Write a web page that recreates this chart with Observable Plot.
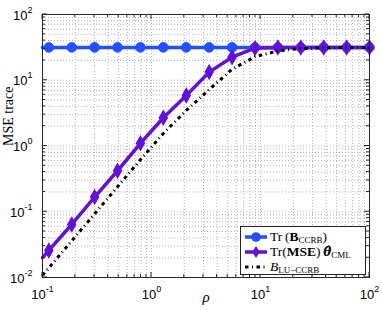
<!DOCTYPE html>
<html><head><meta charset="utf-8">
<script src="https://cdn.jsdelivr.net/npm/d3@7"></script>
<script src="https://cdn.jsdelivr.net/npm/@observablehq/plot@0.6"></script>
<style>
body{margin:0;background:#fff;}
#chart{position:relative;width:382px;height:310px;overflow:hidden;}
.legend{position:absolute;left:240px;top:226px;width:124px;height:47px;border:1px solid #222;background:#fff;
  font-family:"Liberation Serif","DejaVu Serif",serif;font-size:13.5px;color:#000;}
.row{position:absolute;left:3px;height:15px;display:flex;align-items:center;white-space:nowrap;}
.row svg{margin-right:2px;}
sub{font-size:9px;vertical-align:-2px;line-height:0;}
.th{font-family:"DejaVu Serif",serif;font-size:12px;font-weight:bold;font-style:italic;}
</style></head>
<body><div id="chart"></div>
<script>
// ---- data ----
const rho = [0.1143, 0.1854, 0.3007, 0.4881, 0.7919, 1.284, 2.084, 3.381, 5.484, 8.899, 14.43, 23.42, 37.99, 61.64, 100];
const trB   = [31.6, 31.6, 31.6, 31.6, 31.6, 31.6, 31.6, 31.6, 31.6, 31.6, 31.6, 31.6, 31.6, 31.6, 31.6];
const trMSE = [0.0258, 0.064, 0.167, 0.42, 1.10, 2.69, 5.86, 13.3, 22.4, 30.7, 31.5, 31.6, 31.6, 31.6, 31.6];
const bLU   = [0.014, 0.036, 0.093, 0.24, 0.62, 1.55, 3.47, 7.2, 14.7, 22.8, 27.9, 30.4, 31.2, 31.5, 31.6];
// values where the curves enter the left edge (rho = 0.1)
const rhoEdge = 0.1;
const edgeB = 31.6, edgeMSE = 0.020, edgeLU = 0.0108;
const xMajor = [0.1, 1, 10, 100];
const yMajor = [0.01, 0.1, 1, 10, 100];
const seriesNames = ["Tr (B_CCRB)", "Tr(MSE) θ_CML", "B_LU-CCRB"];
const xLabel = "ρ";
const yLabel = "MSE trace";

const colors = {B: "#2350ff", MSE: "#6410d6", LU: "#000000"};

const mk = (ys, edge) => [{x: rhoEdge, y: edge}, ...rho.map((x, i) => ({x, y: ys[i]}))];
const lineB = mk(trB, edgeB), lineMSE = mk(trMSE, edgeMSE), lineLU = mk(bLU, edgeLU);
const ptsB = rho.map((x, i) => ({x, y: trB[i]}));
const ptsMSE = rho.map((x, i) => ({x, y: trMSE[i]}));

const xTicks = d3.scaleLog().domain([0.1, 100]).ticks();
const yTicks = d3.scaleLog().domain([0.01, 100]).ticks();
const isMajor = v => Math.abs(Math.log10(v) - Math.round(Math.log10(v))) < 1e-9;
const fmt = d => "10^" + Math.round(Math.log10(d));

function inwardTicks(index, scales, values, dims) {
  const {x, y} = scales;
  const x0 = dims.marginLeft, x1 = dims.width - dims.marginRight;
  const y0 = dims.marginTop, y1 = dims.height - dims.marginBottom;
  let p = "";
  for (const t of xTicks) { const px = x(t), L = isMajor(t) ? 5 : 3; p += `M${px},${y1}v${-L}M${px},${y0}v${L}`; }
  for (const t of yTicks) { const py = y(t), L = isMajor(t) ? 5 : 3; p += `M${x0},${py}h${L}M${x1},${py}h${-L}`; }
  const g = d3.create("svg:g");
  g.append("path").attr("d", p).attr("fill", "none").attr("stroke", "#262626").attr("stroke-width", 1);
  return g.node();
}

const grid = {stroke: "#b4b4b4", strokeOpacity: 1, strokeDasharray: "1,2", strokeWidth: 1};
const serif = "Liberation Serif, DejaVu Serif, serif";
const dashDot = "3.5,3.5,1,3.5";

const svg = Plot.plot({
  width: 382, height: 310,
  marginLeft: 42, marginRight: 13, marginTop: 14, marginBottom: 33,
  style: {fontFamily: "Liberation Sans, Arial, sans-serif", fontSize: "13px", background: "white", color: "black"},
  x: {type: "log", domain: [0.1, 100], axis: null},
  y: {type: "log", domain: [0.01, 100], axis: null},
  marks: [
    Plot.gridX(xTicks, grid),
    Plot.gridY(yTicks, grid),
    Plot.line(lineB, {x: "x", y: "y", stroke: colors.B, strokeWidth: 3.5}),
    Plot.dot(ptsB, {x: "x", y: "y", r: 4.8, fill: colors.B, stroke: colors.B, strokeWidth: 1}),
    Plot.line(lineMSE, {x: "x", y: "y", stroke: colors.MSE, strokeWidth: 3.5}),
    Plot.dot(ptsMSE, {x: "x", y: "y", symbol: "diamond", r: 4.1, fill: colors.MSE, stroke: colors.MSE, strokeWidth: 1.5}),
    Plot.line(lineLU, {x: "x", y: "y", stroke: colors.LU, strokeWidth: 3, strokeDasharray: dashDot, strokeLinecap: "butt"}),
    Plot.frame({stroke: "#262626", strokeWidth: 1}),
    inwardTicks,
    Plot.axisX(xMajor, {anchor: "bottom", tickSize: 0, tickPadding: 12, tickFormat: fmt, label: null, fontSize: 13}),
    Plot.axisY(yMajor, {anchor: "left", tickSize: 0, tickPadding: 10, tickFormat: fmt, label: null, fontSize: 13, dy: 1}),
    Plot.text([yLabel], {text: d => d, frameAnchor: "left", rotate: -90, dx: -34, fontFamily: serif, fontSize: 14}),
    Plot.text([xLabel], {text: d => d, frameAnchor: "bottom", dy: 24, fontFamily: serif, fontStyle: "italic", fontSize: 15})
  ]
});

// superscript exponents on tick labels
svg.querySelectorAll('g[aria-label$="tick label"] text').forEach(t => {
  const m = t.textContent.match(/^10\^(.+)$/);
  if (!m) return;
  t.textContent = "10";
  const ts = document.createElementNS("http://www.w3.org/2000/svg", "tspan");
  ts.setAttribute("dy", "-7");
  ts.setAttribute("font-size", "9");
  ts.textContent = m[1];
  t.appendChild(ts);
});

const chart = document.getElementById("chart");
chart.appendChild(svg);

// legend
const legendHTML = [
  'Tr&#8201;(<b>B</b><sub>CCRB</sub>)',
  'Tr(<b>MSE</b>)&#8201;<span class="th">θ\u0302</span><sub>CML</sub>',
  '<i>B</i><sub>LU−CCRB</sub>'
];
const legendRows = [9.5, 25, 39.5];
function sample(kind) {
  const s = d3.create("svg").attr("width", 24).attr("height", 12);
  if (kind === 0) {
    s.append("line").attr("x1", 1).attr("x2", 23).attr("y1", 6).attr("y2", 6).attr("stroke", colors.B).attr("stroke-width", 3.5);
    s.append("circle").attr("cx", 12).attr("cy", 6).attr("r", 4.8).attr("fill", colors.B);
  } else if (kind === 1) {
    s.append("line").attr("x1", 1).attr("x2", 23).attr("y1", 6).attr("y2", 6).attr("stroke", colors.MSE).attr("stroke-width", 3.5);
    s.append("path").attr("d", "M12,0L15.8,6L12,12L8.2,6Z").attr("fill", colors.MSE);
  } else {
    s.append("line").attr("x1", 1).attr("x2", 23).attr("y1", 6).attr("y2", 6).attr("stroke", colors.LU).attr("stroke-width", 3).attr("stroke-dasharray", dashDot);
  }
  return s.node();
}
const leg = document.createElement("div");
leg.className = "legend";
legendHTML.forEach((h, i) => {
  const r = document.createElement("div");
  r.className = "row";
  r.style.top = (legendRows[i] - 7.5) + "px";
  r.appendChild(sample(i));
  const sp = document.createElement("span");
  sp.innerHTML = h;
  r.appendChild(sp);
  leg.appendChild(r);
});
chart.appendChild(leg);
</script></body></html>
